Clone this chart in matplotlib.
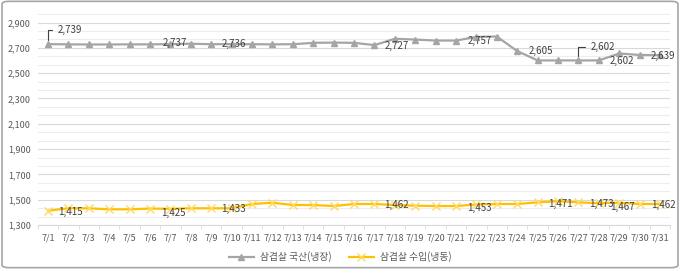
import numpy as np
import matplotlib
matplotlib.use("Agg")
import matplotlib.pyplot as plt
from matplotlib.patches import FancyBboxPatch

plt.rcParams['font.family'] = ['Noto Sans CJK KR', 'DejaVu Sans']

dates = ["7/1", "7/2", "7/3", "7/4", "7/5", "7/6", "7/7", "7/8", "7/9", "7/10",
         "7/11", "7/12", "7/13", "7/14", "7/15", "7/16", "7/17", "7/18", "7/19", "7/20",
         "7/21", "7/22", "7/23", "7/24", "7/25", "7/26", "7/27", "7/28", "7/29", "7/30", "7/31"]

domestic = [2730, 2728, 2727, 2727, 2728, 2728, 2730, 2733, 2729, 2730,
            2729, 2728, 2729, 2740, 2742, 2740, 2722, 2772, 2766, 2758,
            2758, 2787, 2790, 2675, 2601, 2601, 2601, 2601, 2656, 2644, 2643]
imported = [1413, 1432, 1432, 1424, 1424, 1430, 1428, 1432, 1432, 1432,
            1466, 1476, 1458, 1458, 1450, 1466, 1466, 1458, 1453, 1450,
            1450, 1462, 1466, 1466, 1479, 1488, 1479, 1472, 1476, 1466, 1466]

# data labels: (point index, text, dx px, dy px, leader)
domestic_labels = [(0, "2,739", 22, 14, True), (6, "2,737", 4, 1, False),
                   (9, "2,736", 2, 0, False), (17, "2,727", 2, -7, False),
                   (21, "2,757", 3, -4, False), (24, "2,605", 3, 9, False),
                   (26, "2,602", 24, 13, True), (28, "2,602", 3, -8, False),
                   (30, "2,639", 3, -1, False)]
imported_labels = [(0, "1,415", 22, -1, False), (6, "1,425", 3, -4, False),
                   (9, "1,433", 2, -1, False), (17, "1,462", 2, 0, False),
                   (21, "1,453", 3, -3, False), (25, "1,471", 2, -3, False),
                   (27, "1,473", 3, -1, False), (28, "1,467", 3, -4, False),
                   (30, "1,462", 3, -1, False)]

names = ["삼겹살 국산(냉장)", "삼겹살 수입(냉동)"]

fig = plt.figure(figsize=(6.8, 2.69), dpi=100)
ax = fig.add_axes([0.0556, 0.1636, 0.93, 0.7994])

x = np.arange(len(dates))
ax.plot(x, domestic, color="#A5A5A5", lw=1.6, marker="^", ms=5,
        mec="#A5A5A5", mfc="#A5A5A5", label=names[0], zorder=3)
ax.plot(x, imported, color="#FFC000", lw=1.6, marker="x", ms=6, mew=1.0,
        mec="#FFD966", label=names[1], zorder=3)

for series, labels in ((domestic, domestic_labels), (imported, imported_labels)):
    for i, txt, dx, dy, leader in labels:
        kw = {}
        if leader:
            kw["arrowprops"] = dict(arrowstyle="-", color="#404040", lw=0.8,
                                    connectionstyle="angle,angleA=0,angleB=90",
                                    relpos=(0, 0.5), shrinkA=2, shrinkB=3)
        ax.annotate(txt, (x[i], series[i]), xytext=(dx, dy),
                    textcoords="offset pixels", ha="center", va="center",
                    fontsize=7, color="#404040", zorder=4, **kw)

ax.set_xlim(-0.5, len(dates) - 0.5)
ax.set_ylim(1300, 3000)
ax.set_yticks(np.arange(1300, 3000, 200))
ax.set_yticklabels([f"{v:,}" for v in range(1300, 3000, 200)])
ax.set_yticks(np.arange(1300, 3000, 200 / 3), minor=True)
ax.set_xticks(x)
ax.set_xticklabels(dates)
ax.set_xticks(np.arange(-0.5, len(dates), 1), minor=True)

ax.grid(axis="y", which="major", color="#D9D9D9", lw=0.8)
ax.grid(axis="y", which="minor", color="#EDEDED", lw=0.8)
ax.set_axisbelow(True)
for s in ("top", "right", "left"):
    ax.spines[s].set_visible(False)
ax.spines["bottom"].set_color("#D9D9D9")
ax.tick_params(axis="y", which="both", length=0, labelsize=6.5, labelcolor="#595959", pad=5)
ax.tick_params(axis="x", which="major", length=0, labelsize=6.5, labelcolor="#595959", pad=6)
ax.tick_params(axis="x", which="minor", length=3, color="#D9D9D9")

fig.legend(loc="center", bbox_to_anchor=(0.5, 0.045), ncol=2, frameon=False,
           fontsize=7, labelcolor="#595959", handlelength=2.6, columnspacing=1.8,
           handletextpad=0.6)

fig.patches.append(FancyBboxPatch((0.003, 0.005), 0.994, 0.99, transform=fig.transFigure,
                                  boxstyle="round,pad=0,rounding_size=0.01",
                                  fill=False, ec="#A6A6A6", lw=1.2))

fig.savefig("out.png", dpi=100)
